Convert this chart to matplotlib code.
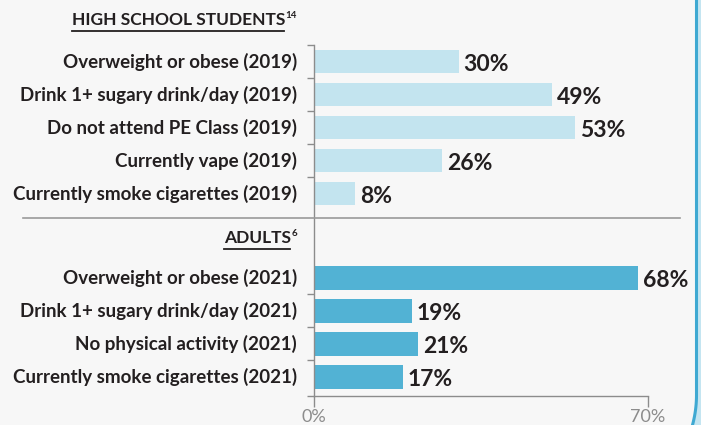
import matplotlib
matplotlib.use("Agg")
import matplotlib.pyplot as plt
from matplotlib.lines import Line2D
from matplotlib.patches import Polygon
import numpy as np

# ---- data ----
hs_labels = ["Overweight or obese (2019)", "Drink 1+ sugary drink/day (2019)",
             "Do not attend PE Class (2019)", "Currently vape (2019)",
             "Currently smoke cigarettes (2019)"]
hs_values = [30.3, 49.9, 54.8, 26.9, 8.6]          # bar lengths
hs_value_text = ["30%", "49%", "53%", "26%", "8%"]
adult_labels = ["Overweight or obese (2021)", "Drink 1+ sugary drink/day (2021)",
                "No physical activity (2021)", "Currently smoke cigarettes (2021)"]
adult_values = [68.0, 20.5, 21.8, 18.6]
adult_value_text = ["68%", "19%", "21%", "17%"]
hs_title = "HIGH SCHOOL STUDENTS"
hs_ref = "14"
adult_title = "ADULTS"
adult_ref = "6"
x_ticks = [0, 70]
x_ticklabels = ["0%", "70%"]

# ---- style ----
W, H = 701, 425
BG = "#f7f7f7"
HS_COLOR = "#c3e4ef"
AD_COLOR = "#52b2d4"
TXT = "#231f20"
GRAY = "#8c8c8c"
FONT = "Lato"

fig = plt.figure(figsize=(W / 100, H / 100), dpi=100, facecolor=BG)

def fx(px):
    return px / W

def fy(py):
    return 1 - py / H

ax_left, ax_right, ax_top, ax_bot = 314, 648, 45, 396
ax = fig.add_axes([fx(ax_left), fy(ax_bot), fx(ax_right - ax_left), (ax_bot - ax_top) / H])
ax.set_facecolor("none")

row = 33.0  # px per row
ymax = (ax_bot - ax_top) / row
hs_pos = np.arange(len(hs_values)) + 0.5
ad_pos = np.arange(len(adult_values)) + 7.05
bar_h = 0.72

ax.barh(hs_pos, hs_values, height=bar_h, color=HS_COLOR, edgecolor="none")
ax.barh(ad_pos, adult_values, height=bar_h, color=AD_COLOR, edgecolor="none")
ax.set_xlim(0, 70)
ax.set_ylim(ymax, 0)

for p, v, t in list(zip(hs_pos, hs_values, hs_value_text)) + \
        list(zip(ad_pos, adult_values, adult_value_text)):
    ax.text(v + 1.0, p + 0.1, t, ha="left", va="center", fontsize=16.5,
            fontweight="bold", color=TXT, family=FONT)

# y ticks at category boundaries
ytick_pos = list(np.arange(len(hs_values))) + list(ad_pos[1:] - 0.5) + [ymax]
ax.set_yticks(ytick_pos)
ax.set_yticklabels([])
ax.tick_params(axis="y", length=5, color=GRAY, width=1)
ax.set_xticks(x_ticks)
ax.set_xticklabels(x_ticklabels, fontsize=13, color=GRAY, family=FONT)
ax.tick_params(axis="x", length=8, color=GRAY, width=1, pad=1.5)
for s in ["top", "right"]:
    ax.spines[s].set_visible(False)
for s in ["left", "bottom"]:
    ax.spines[s].set_color(GRAY)
    ax.spines[s].set_linewidth(1)

# category labels
label_x = fx(297)
for p, lab in zip(hs_pos, hs_labels):
    fig.text(label_x, fy(ax_top + p * row), lab, ha="right", va="center",
             fontsize=13.5, fontweight="bold", color=TXT, family=FONT)
for p, lab in zip(ad_pos, adult_labels):
    fig.text(label_x, fy(ax_top + p * row), lab, ha="right", va="center",
             fontsize=13.5, fontweight="bold", color=TXT, family=FONT)

# headings with underline and superscript
def heading(title, ref, right_px, y_px):
    t_ref = fig.text(fx(right_px), fy(y_px - 5), ref, ha="right", va="center",
                     fontsize=7, fontweight="bold", color=TXT, family=FONT)
    fig.canvas.draw()
    r = fig.canvas.get_renderer()
    bb = t_ref.get_window_extent(r)
    t = fig.text((bb.x0 - 0.5) / W, fy(y_px), title,
                 ha="right", va="center", fontsize=12.5, fontweight="bold",
                 color=TXT, family=FONT)
    bb2 = t.get_window_extent(r)
    yline = fy(y_px + 11)
    fig.add_artist(Line2D([bb2.x0 / W, (bb2.x1 - 1) / W], [yline, yline],
                          color=TXT, lw=1.3, transform=fig.transFigure))

heading(hs_title, hs_ref, 297, 20)
heading(adult_title, adult_ref, 297, 238)

# separator line
fig.add_artist(Line2D([fx(23), fx(680)], [fy(218), fy(218)], color="#9a9a9a",
                      lw=1.2, transform=fig.transFigure))

# right border of panel with large rounded corner continuing below the image
bx, corner_y, rad = 696.5, 395.0, 114.5
ang = np.linspace(0, np.pi / 2, 60)
arc_x = bx - rad + rad * np.cos(ang)
arc_y = corner_y + rad * np.sin(ang)
px = np.concatenate([[bx], arc_x])
py = np.concatenate([[-5], arc_y])
fill_pts = list(zip(fx(px), fy(py))) + [(fx(720), fy(corner_y + rad)), (fx(720), fy(-5))]
fig.add_artist(Polygon(fill_pts, closed=True, facecolor="#c4e5f1", edgecolor="none",
                       transform=fig.transFigure))
fig.add_artist(Line2D(fx(px), fy(py), color="#3fa9d2", lw=2.2,
                      transform=fig.transFigure))

fig.savefig("out.png", dpi=100, facecolor=BG)
